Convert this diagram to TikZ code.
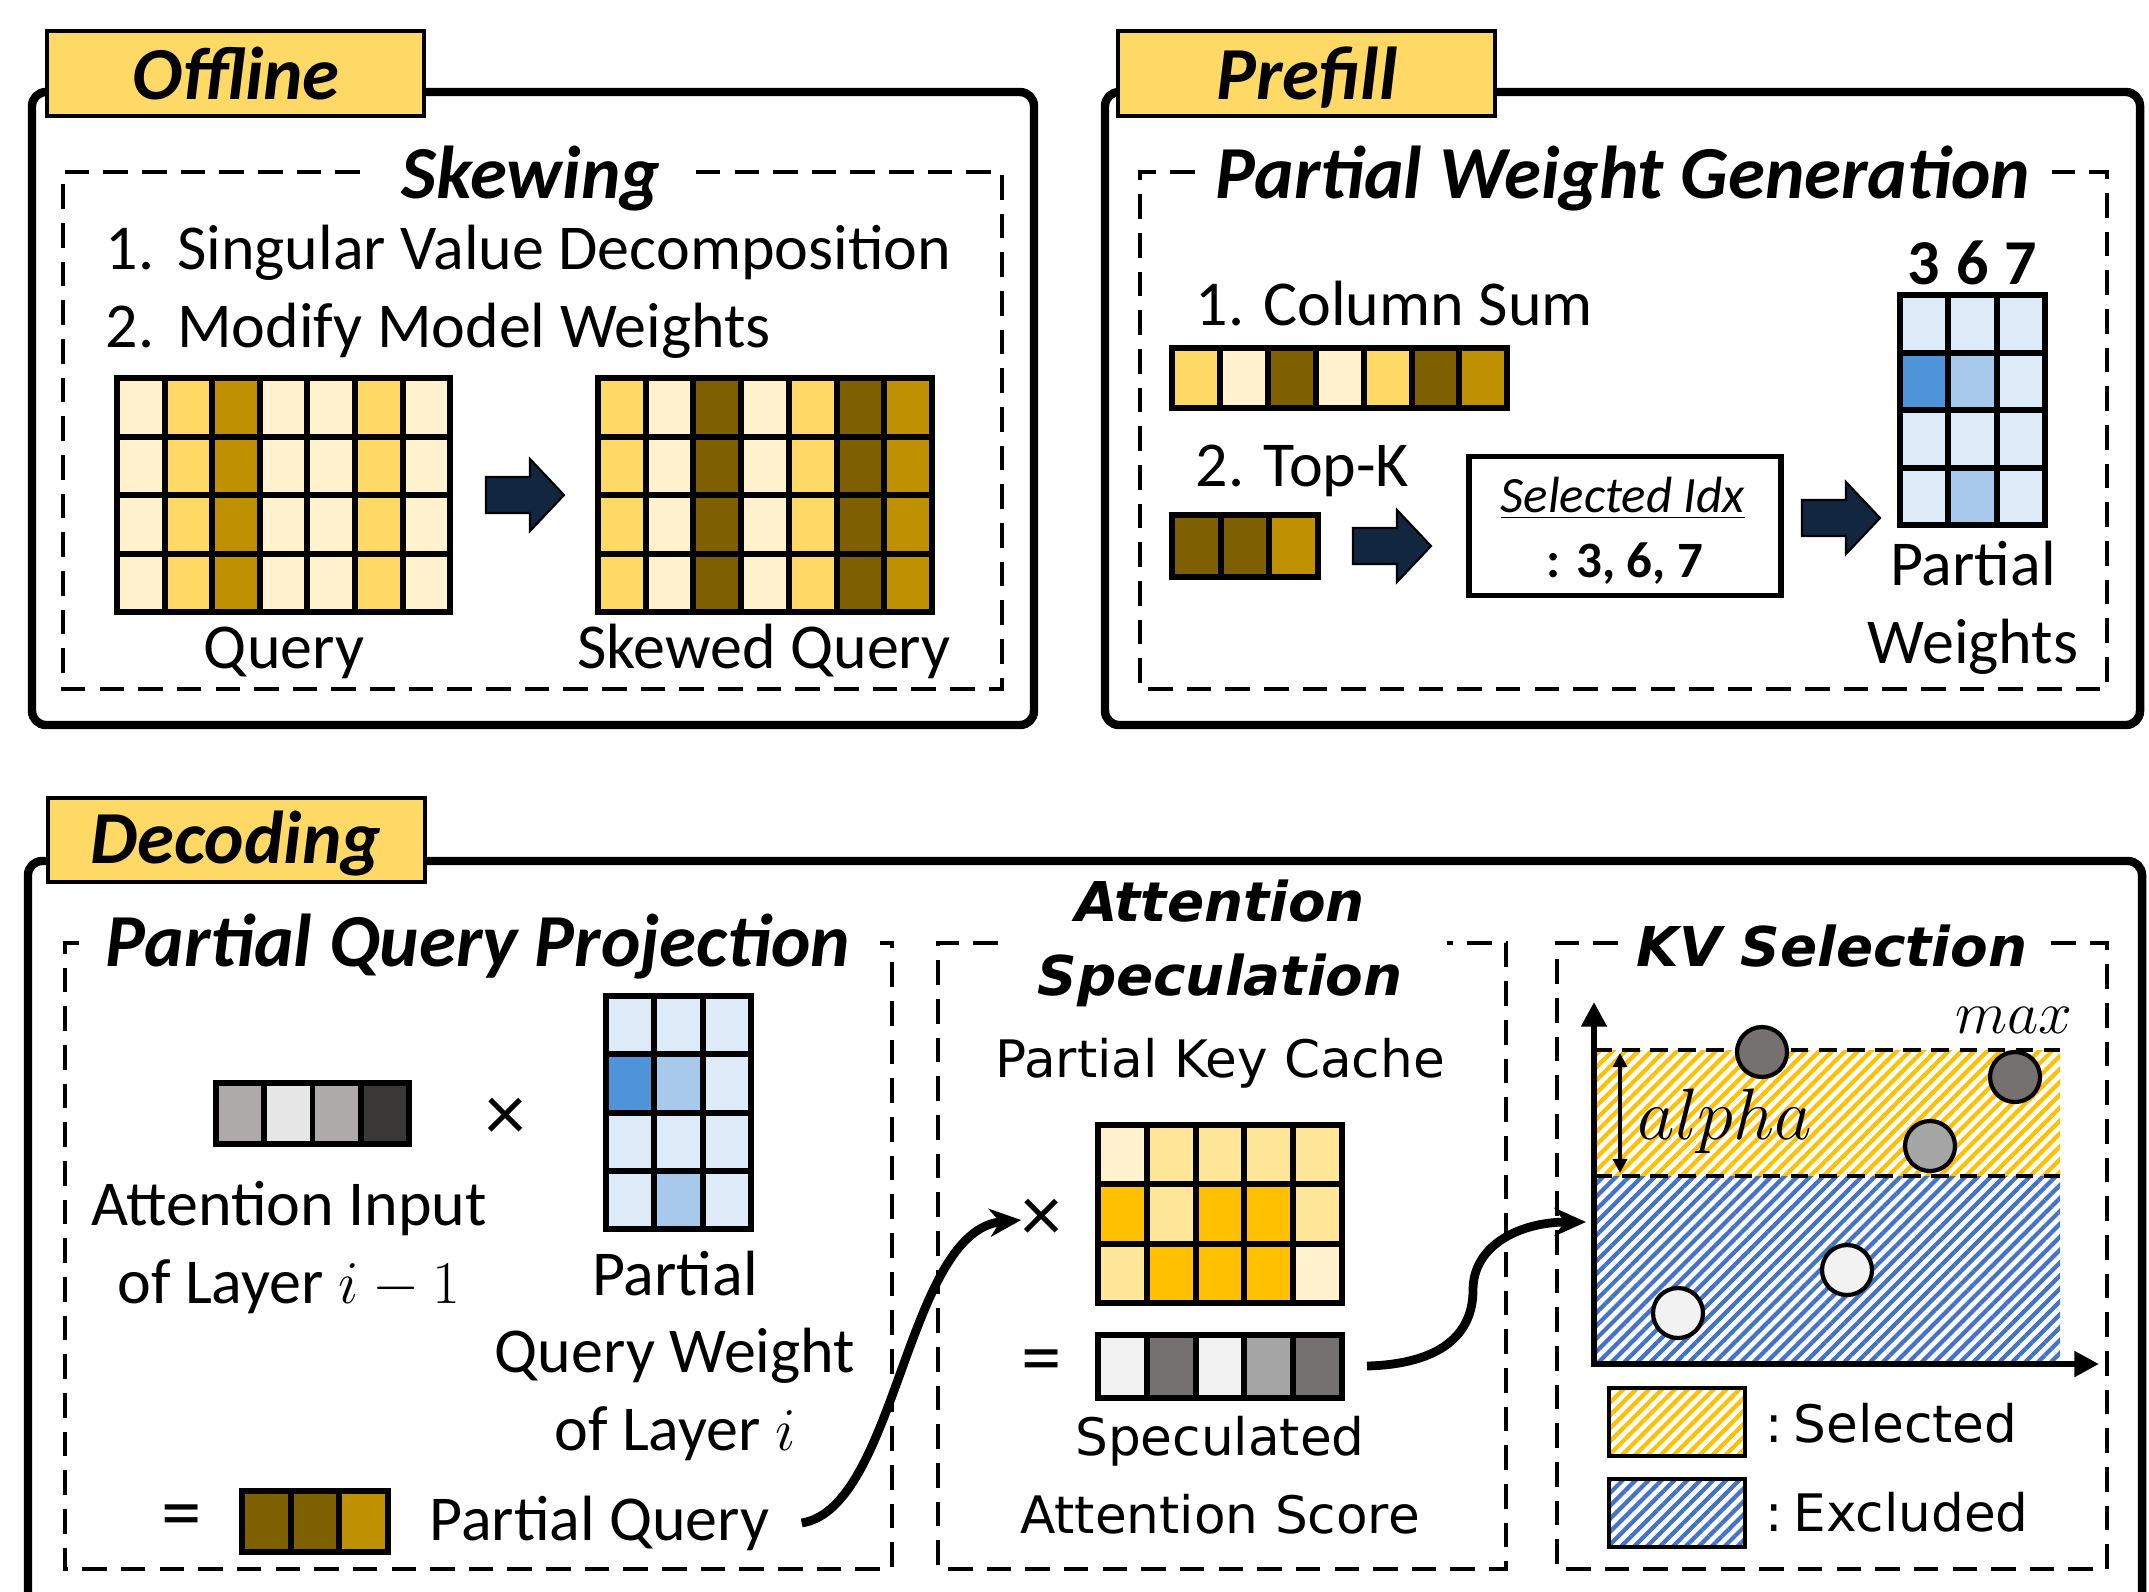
\documentclass[tikz,border=0pt]{standalone}
\usepackage{fontspec}
\setmainfont{Carlito}
\newfontfamily\verdfont{DejaVu Sans}
\usetikzlibrary{arrows.meta,patterns.meta}

\definecolor{tagfill}{HTML}{FFD966}
\definecolor{qlight}{HTML}{FFF2CC}
\definecolor{qgold}{HTML}{FFD966}
\definecolor{qdark}{HTML}{BF9000}
\definecolor{qbrown}{HTML}{7F6000}
\definecolor{klight}{HTML}{FFF2CC}
\definecolor{kmid}{HTML}{FFE699}
\definecolor{kfull}{HTML}{FFC000}
\definecolor{wlight}{HTML}{DDEAF7}
\definecolor{wmid}{HTML}{A7CAEC}
\definecolor{wdark}{HTML}{4F93D9}
\definecolor{gmid}{HTML}{AEAAAA}
\definecolor{gpale}{HTML}{E7E6E6}
\definecolor{gblack}{HTML}{3B3838}
\definecolor{swhite}{HTML}{F2F2F2}
\definecolor{sdark}{HTML}{767171}
\definecolor{sgrey}{HTML}{A5A5A5}
\definecolor{hatchblue}{HTML}{4472C4}
\definecolor{navy}{HTML}{12263F}

\newcommand{\fsbody}{\fontsize{18.2}{22}\selectfont}
\newcommand{\fstitle}{\fontsize{21.3}{25}\selectfont\bfseries\itshape}
\newcommand{\fsidx}{\fontsize{14.5}{17}\selectfont}
\newcommand{\fsverd}{\fontsize{14.7}{22}\selectfont\verdfont}
\newcommand{\fsverdttl}{\fontsize{15.6}{21}\selectfont\verdfont\bfseries\itshape}
\newcommand{\fsop}{\fontsize{23}{24}\selectfont}

% fat navy arrow, #1 = middle of its left end
\newcommand{\fatarrow}[1]{\draw[fatarr] (#1) ++(0,-18) -- ++(44,0) -- ++(0,-18) -- ++(34,36) -- ++(-34,36) -- ++(0,-18) -- ++(-44,0) -- cycle;}

\begin{document}
\begin{tikzpicture}[x=0.1mm, y=-0.1mm,
  panel/.style={line width=2.4pt, rounded corners=4pt},
  tagbox/.style={draw, line width=1.4pt, fill=tagfill},
  tagtext/.style={font=\fstitle, anchor=base, inner sep=0pt},
  ttl/.style={font=\fstitle, anchor=base, inner sep=0pt},
  vttl/.style={font=\fsverdttl, anchor=base, inner sep=0pt, align=center},
  dashbox/.style={line width=1.2pt, dash pattern=on 7pt off 4pt},
  cell/.style={draw, line width=1.7pt},
  lbl/.style={font=\fsbody, anchor=base, inner sep=0pt, align=center},
  vlbl/.style={font=\fsverd, anchor=base, inner sep=0pt, align=center},
  oper/.style={font=\fsop, inner sep=0pt},
  fatarr/.style={draw=black, line width=0.6pt, fill=navy},
  curvearr/.style={line width=2.5pt, -{Stealth[length=9pt,width=8pt]}},
  axis/.style={line width=1.7pt, {Triangle[length=7pt,width=7pt]}-{Triangle[length=7pt,width=7pt]}},
  ylw/.style={pattern={Lines[angle=45,distance=2.6pt,line width=1.2pt]}, pattern color=kfull},
  blu/.style={pattern={Lines[angle=45,distance=2.6pt,line width=1.2pt]}, pattern color=hatchblue},
  dot/.style={draw, line width=1.2pt}]
\useasboundingbox (0,0) rectangle (2149,1591);

% ---------- Offline ----------
\draw[panel] (32,92) rectangle (1034,725);
\draw[tagbox] (47,31) rectangle (424,116);
\node[tagtext] (offline) at (236,99) {Offline};
\draw[dashbox] (360,172) -| (63,689) -| (1002,172) -- (696,172);
\node[ttl] (skewing) at (531,198) {Skewing};
\node[lbl, anchor=base west] (svd) at (105,269) {1.\hspace{0.36em}Singular Value Decomposition};
\node[lbl, anchor=base west] (modify) at (105,347) {2.\hspace{0.36em}Modify Model Weights};
\foreach \c [count=\i from 0] in {qlight,qgold,qdark,qlight,qlight,qgold,qlight}
  \foreach \r in {0,...,3}
    \draw[cell, fill=\c] (117+\i*47.6,378+\r*58.5) rectangle ++(47.6,58.5);
\foreach \c [count=\i from 0] in {qgold,qlight,qbrown,qlight,qgold,qbrown,qdark}
  \foreach \r in {0,...,3}
    \draw[cell, fill=\c] (598+\i*47.7,378+\r*58.5) rectangle ++(47.7,58.5);
\fatarrow{486,495}
\node[lbl] (query) at (284,668) {Query};
\node[lbl] (skewed) at (764,668) {Skewed Query};

% ---------- Prefill ----------
\draw[panel] (1105,92) rectangle (2140,725);
\draw[tagbox] (1118,31) rectangle (1495,116);
\node[tagtext] (prefill) at (1307,99) {Prefill};
\draw[dashbox] (1195,172) -| (1140,689) -| (2107,172) -- (2052,172);
\node[ttl] (pwg) at (1623,198) {Partial Weight Generation};
\node[lbl, anchor=base west] (colsum) at (1195,325) {1. Column Sum};
\foreach \c [count=\i from 0] in {qgold,qlight,qbrown,qlight,qgold,qbrown,qdark}
  \draw[cell, fill=\c] (1172+\i*47.9,348) rectangle ++(47.9,60);
\node[lbl, anchor=base west] (topk) at (1195,486) {2. Top-K};
\foreach \c [count=\i from 0] in {qbrown,qbrown,qdark}
  \draw[cell, fill=\c] (1172+\i*48.7,515) rectangle ++(48.7,62);
\fatarrow{1353,546}
\node[draw, line width=1.5pt, minimum width=31.2mm, minimum height=13.9mm] (idxbox) at (1625,526) {};
\node[font=\fsidx, anchor=base, inner sep=0pt] (idxhead) at (1623,512) {\underline{\textit{Selected Idx}}};
\node[font=\fsidx\bfseries, anchor=base, inner sep=0pt] (idxval) at (1625,577) {: 3, 6, 7};
\fatarrow{1802,518}
\foreach \rowc [count=\r from 0] in {{wlight,wlight,wlight},{wdark,wmid,wlight},{wlight,wlight,wlight},{wlight,wmid,wlight}}
  \foreach \c [count=\i from 0] in \rowc
    \draw[cell, fill=\c] (1900+\i*48.3,295+\r*57.5) rectangle ++(48.3,57.5);
\node[lbl, font=\fsbody\bfseries] (c3) at (1924,284) {3};
\node[lbl, font=\fsbody\bfseries] (c6) at (1973,284) {6};
\node[lbl, font=\fsbody\bfseries] (c7) at (2021,284) {7};
\node[lbl] (pw) at (1973,663) {Partial\\Weights};

% ---------- Decoding ----------
\draw[panel] (28,1600) -- (28,861) -- (2142,861) -- (2142,1600);
\draw[tagbox] (48,798) rectangle (425,882);
\node[tagtext] (decoding) at (236,863) {Decoding};

% partial query projection
\draw[dashbox] (79,943) -| (65,1569) -| (892,943) -- (880,943);
\node[ttl] (pqp) at (478,966) {Partial Query Projection};
\foreach \c [count=\i from 0] in {gmid,gpale,gmid,gblack}
  \draw[cell, fill=\c] (216+\i*48.25,1083) rectangle ++(48.25,61);
\node[oper] (times1) at (506,1119) {×};
\foreach \rowc [count=\r from 0] in {{wlight,wlight,wlight},{wdark,wmid,wlight},{wlight,wlight,wlight},{wlight,wmid,wlight}}
  \foreach \c [count=\i from 0] in \rowc
    \draw[cell, fill=\c] (606+\i*48.3,996+\r*58.25) rectangle ++(48.3,58.25);
\node[lbl] (ain) at (289,1303) {Attention Input\\of Layer $i-1$};
\node[lbl] (qw) at (675,1450) {Partial\\Query Weight\\of Layer $i$};
\node[oper] (eq1) at (182,1522) {=};
\foreach \c [count=\i from 0] in {qbrown,qbrown,qdark}
  \draw[cell, fill=\c] (242+\i*48.7,1491) rectangle ++(48.7,61);
\node[lbl, anchor=base west, inner xsep=9pt] (pq) at (397,1540) {Partial Query};

% attention speculation
\draw[dashbox] (998,943) -| (938,1569) -| (1506,943) -- (1447,943);
\node[vttl] (as) at (1220,995) {Attention\\Speculation};
\node[vlbl] (pkc) at (1220,1077) {Partial Key Cache};
\foreach \rowc [count=\r from 0] in {{klight,kmid,kmid,kmid,kmid},{kfull,kmid,kfull,kfull,kmid},{kmid,kfull,kfull,kfull,klight}}
  \foreach \c [count=\i from 0] in \rowc
    \draw[cell, fill=\c] (1098+\i*48.8,1125+\r*59.3) rectangle ++(48.8,59.3);
\node[oper] (times2) at (1042,1220) {×};
\node[oper] (eq2) at (1042,1367) {=};
\foreach \c [count=\i from 0] in {swhite,sdark,swhite,sgrey,sdark}
  \draw[cell, fill=\c] (1098+\i*48.8,1335) rectangle ++(48.8,63);
\coordinate (score-e) at (1367,1366);
\node[vlbl] (sas) at (1220,1533) {Speculated\\Attention Score};

% kv selection
\draw[dashbox] (1618,943) -| (1557,1569) -| (2107,943) -- (2049,943);
\node[vttl] (kvsel) at (1832,966) {KV Selection};
\fill[ylw] (1594,1050) rectangle (2060,1176);
\fill[blu] (1594,1176) rectangle (2060,1364);
\draw[line width=1pt, dash pattern=on 5pt off 3pt] (1594,1050) -- (2060,1050);
\draw[line width=1pt, dash pattern=on 5pt off 3pt] (1594,1176) -- (2060,1176);
\draw[axis] (1594,1002) -- (1594,1364) -- (2099,1364);
\coordinate (kv-in) at (1586,1222);
\draw[line width=1pt, {Triangle[length=4pt,width=4pt]}-{Triangle[length=4pt,width=4pt]}] (1620,1053) -- (1620,1173);
\node[font=\fontsize{19.5}{22}\selectfont, anchor=base west, inner sep=0pt] (alpha) at (1637,1139) {$alpha$};
\node[font=\fontsize{18}{22}\selectfont, anchor=base, inner sep=0pt] (max) at (2014,1033) {$max$};
\draw[dot, fill=sdark] (1762,1052) circle (2.5mm);
\draw[dot, fill=sdark] (2015,1077) circle (2.5mm);
\draw[dot, fill=sgrey] (1930,1146) circle (2.5mm);
\draw[dot, fill=swhite] (1847,1270) circle (2.5mm);
\draw[dot, fill=swhite] (1678,1313) circle (2.5mm);
\draw[ylw, draw, line width=1.2pt] (1609,1388) rectangle (1745,1456);
\draw[blu, draw, line width=1.2pt] (1609,1479) rectangle (1745,1547);
\node[vlbl, anchor=base west] (legsel) at (1765,1442) {:\hspace{0.2em}Selected};
\node[vlbl, anchor=base west] (legexc) at (1765,1531) {:\hspace{0.2em}Excluded};

% connectors
\draw[curvearr] (pq.east) .. controls +(95,-15) and +(-115,10) .. (times2.west);
\draw[curvearr] (score-e) .. controls (1440,1364) and (1473,1335) .. (1473,1290) .. controls (1473,1245) and (1520,1222) .. (kv-in);
\end{tikzpicture}
\end{document}
